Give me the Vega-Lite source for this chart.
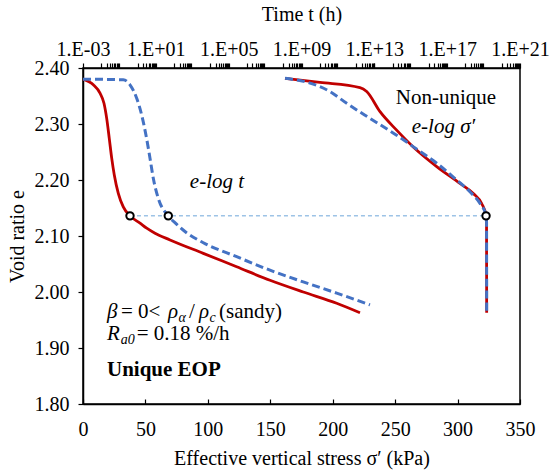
{
  "$schema": "https://vega.github.io/schema/vega-lite/v6.json",
  "width": 437,
  "height": 336,
  "autosize": {"type": "none"},
  "padding": {"left": 83, "top": 68, "right": 35, "bottom": 67},
  "background": "white",
  "config": {
    "view": {"stroke": "black", "strokeWidth": 1.5},
    "axis": {
      "labelFont": "Liberation Serif", "titleFont": "Liberation Serif",
      "labelFontSize": 20, "titleFontSize": 20, "titleFontWeight": "normal",
      "labelColor": "black", "titleColor": "black", "domainColor": "black", "tickColor": "black",
      "grid": false, "domainWidth": 1.5, "tickWidth": 1.2, "labelOverlap": false, "labelFlush": false, "labelBound": false
    }
  },
  "resolve": {"scale": {"x": "independent"}, "axis": {"x": "independent"}},
  "encoding": {
    "y": {"field": "e", "type": "quantitative",
      "scale": {"domain": [1.8, 2.4], "nice": false, "zero": false},
      "axis": {"title": "Void ratio e", "values": [1.8, 1.9, 2.0, 2.1, 2.2, 2.3, 2.4], "format": ".2f", "tickSize": 5, "labelPadding": 9, "titlePadding": 7}}
  },
  "layer": [
    {
      "encoding": {
        "x": {"field": "stress", "type": "quantitative",
          "scale": {"domain": [0, 350], "nice": false, "zero": false},
          "axis": {"orient": "bottom", "title": "Effective vertical stress σ′ (kPa)", "values": [0, 50, 100, 150, 200, 250, 300, 350], "tickSize": -5, "labelPadding": 20, "titlePadding": 9}}
      },
      "layer": [
        {
          "data": {"values": [{"stress": 37.6, "e": 2.136}, {"stress": 322.8, "e": 2.136}]},
          "mark": {"type": "line", "color": "#9DC3E6", "strokeWidth": 1.5, "strokeDash": [4, 3]}
        },
        {
          "data": {"values": [
            {"stress": 161.8, "e": 2.3815}, {"stress": 189.8, "e": 2.3744}, {"stress": 221.8, "e": 2.365}, {"stress": 227.2, "e": 2.358},
            {"stress": 237.9, "e": 2.322}, {"stress": 251.2, "e": 2.289}, {"stress": 264.5, "e": 2.259}, {"stress": 283.3, "e": 2.224},
            {"stress": 301.9, "e": 2.194}, {"stress": 312.6, "e": 2.176}, {"stress": 319.3, "e": 2.158}, {"stress": 322.8, "e": 2.137},
            {"stress": 323.2, "e": 2.125}, {"stress": 323.3, "e": 1.963}
          ]},
          "mark": {"type": "line", "color": "#C00000", "strokeWidth": 2.8, "interpolate": "monotone"}
        },
        {
          "data": {"values": [
            {"stress": 161.8, "e": 2.3815}, {"stress": 181.8, "e": 2.373}, {"stress": 197.8, "e": 2.358}, {"stress": 211.2, "e": 2.337},
            {"stress": 229.9, "e": 2.31}, {"stress": 251.2, "e": 2.28}, {"stress": 269.9, "e": 2.251}, {"stress": 283.3, "e": 2.23},
            {"stress": 299.3, "e": 2.2}, {"stress": 309.9, "e": 2.179}, {"stress": 318.0, "e": 2.158}, {"stress": 322.8, "e": 2.137},
            {"stress": 323.2, "e": 2.125}, {"stress": 323.3, "e": 1.963}
          ]},
          "mark": {"type": "line", "color": "#4472C4", "strokeWidth": 3, "strokeDash": [8, 4], "interpolate": "monotone"}
        },
        {
          "data": {"values": [{"stress": 322.8, "e": 2.136}]},
          "mark": {"type": "point", "shape": "circle", "filled": true, "fill": "white", "stroke": "black", "strokeWidth": 2, "size": 55, "opacity": 1}
        },
        {
          "data": {"values": [{"stress": 107.3, "e": 2.196, "label": "e-log t"}, {"stress": 288.7, "e": 2.295, "label": "e-log σ′"}]},
          "mark": {"type": "text", "font": "Liberation Serif", "fontSize": 21, "fontStyle": "italic", "align": "center", "baseline": "middle", "color": "black"},
          "encoding": {"text": {"field": "label"}}
        },
        {
          "data": {"values": [{"stress": 290.7, "e": 2.346, "label": "Non-unique"}]},
          "mark": {"type": "text", "font": "Liberation Serif", "fontSize": 21, "align": "center", "baseline": "middle", "color": "black"},
          "encoding": {"text": {"field": "label"}}
        },
        {
          "data": {"values": [
            {"stress": 19.2, "e": 1.9536, "label": "β"}, {"stress": 68.1, "e": 1.9536, "label": "ρ"}, {"stress": 92.9, "e": 1.9536, "label": "ρ"},
            {"stress": 19.2, "e": 1.9143, "label": "R"}
          ]},
          "mark": {"type": "text", "font": "Liberation Serif", "fontSize": 21, "fontStyle": "italic", "align": "left", "baseline": "alphabetic", "color": "black"},
          "encoding": {"text": {"field": "label"}}
        },
        {
          "data": {"values": [
            {"stress": 76.5, "e": 1.9464, "label": "α"}, {"stress": 101.3, "e": 1.9464, "label": "c"},
            {"stress": 30.2, "e": 1.9071, "label": "a0"}
          ]},
          "mark": {"type": "text", "font": "Liberation Serif", "fontSize": 14, "fontStyle": "italic", "align": "left", "baseline": "alphabetic", "color": "black"},
          "encoding": {"text": {"field": "label"}}
        },
        {
          "data": {"values": [
            {"stress": 30.4, "e": 1.9536, "label": "= 0<"}, {"stress": 84.9, "e": 1.9536, "label": "/"}, {"stress": 108.9, "e": 1.9536, "label": "(sandy)"},
            {"stress": 43.0, "e": 1.9143, "label": "= 0.18 %/h"}
          ]},
          "mark": {"type": "text", "font": "Liberation Serif", "fontSize": 21, "align": "left", "baseline": "alphabetic", "color": "black"},
          "encoding": {"text": {"field": "label"}}
        },
        {
          "data": {"values": [{"stress": 19.2, "e": 1.8506, "label": "Unique EOP"}]},
          "mark": {"type": "text", "font": "Liberation Serif", "fontSize": 21, "fontWeight": "bold", "align": "left", "baseline": "alphabetic", "color": "black"},
          "encoding": {"text": {"field": "label"}}
        }
      ]
    },
    {
      "encoding": {
        "x": {"field": "time", "type": "quantitative",
          "scale": {"type": "log", "domain": [0.001, 1e21], "nice": false},
          "axis": {"orient": "top", "title": "Time t (h)", "tickSize": 5, "labelPadding": 4, "titlePadding": 15,
            "values": [0.001, 0.01, 0.02, 0.03, 0.04, 0.05, 0.06, 0.07, 0.08, 0.09,
              1, 2, 3, 4, 5, 6, 7, 8, 9, 10,
              100, 200, 300, 400, 500, 600, 700, 800, 900,
              1e4, 2e4, 3e4, 4e4, 5e4, 6e4, 7e4, 8e4, 9e4, 1e5,
              1e6, 2e6, 3e6, 4e6, 5e6, 6e6, 7e6, 8e6, 9e6,
              1e8, 2e8, 3e8, 4e8, 5e8, 6e8, 7e8, 8e8, 9e8, 1e9,
              1e10, 2e10, 3e10, 4e10, 5e10, 6e10, 7e10, 8e10, 9e10,
              1e12, 2e12, 3e12, 4e12, 5e12, 6e12, 7e12, 8e12, 9e12, 1e13,
              1e14, 2e14, 3e14, 4e14, 5e14, 6e14, 7e14, 8e14, 9e14,
              1e16, 2e16, 3e16, 4e16, 5e16, 6e16, 7e16, 8e16, 9e16, 1e17,
              1e18, 2e18, 3e18, 4e18, 5e18, 6e18, 7e18, 8e18, 9e18,
              1e20, 2e20, 3e20, 4e20, 5e20, 6e20, 7e20, 8e20, 9e20, 1e21],
            "labelExpr": "(abs(log(datum.value)/LN10 - round(log(datum.value)/LN10)) < 0.001 && (round(log(datum.value)/LN10) + 3) % 4 == 0) ? ('1.E' + (datum.value < 1 ? '-' : '+') + pad(toString(abs(round(log(datum.value)/LN10))), 2, '0', 'left')) : ''"}}
      },
      "layer": [
        {
          "data": {"values": [
            {"time": 0.001, "e": 2.38}, {"time": 0.00368, "e": 2.37}, {"time": 0.0086, "e": 2.355}, {"time": 0.0142, "e": 2.337},
            {"time": 0.02, "e": 2.31}, {"time": 0.0278, "e": 2.274}, {"time": 0.0377, "e": 2.239}, {"time": 0.0523, "e": 2.209},
            {"time": 0.0868, "e": 2.176}, {"time": 0.163, "e": 2.152}, {"time": 0.381, "e": 2.136}, {"time": 1.35, "e": 2.123},
            {"time": 3.15, "e": 2.114}, {"time": 8.99, "e": 2.105}, {"time": 60, "e": 2.093}, {"time": 4040, "e": 2.069},
            {"time": 275000, "e": 2.045}, {"time": 1.86e7, "e": 2.021}, {"time": 1.25e9, "e": 2.0}, {"time": 8.55e10, "e": 1.98},
            {"time": 1.63e12, "e": 1.963}
          ]},
          "mark": {"type": "line", "color": "#C00000", "strokeWidth": 2.8, "interpolate": "monotone"}
        },
        {
          "data": {"values": [
            {"time": 0.001, "e": 2.38}, {"time": 0.163, "e": 2.379}, {"time": 0.381, "e": 2.37}, {"time": 0.889, "e": 2.346},
            {"time": 1.67, "e": 2.316}, {"time": 2.88, "e": 2.28}, {"time": 4.78, "e": 2.239}, {"time": 7.26, "e": 2.203},
            {"time": 13.7, "e": 2.167}, {"time": 48.3, "e": 2.136}, {"time": 128, "e": 2.122}, {"time": 399, "e": 2.108},
            {"time": 4040, "e": 2.088}, {"time": 275000, "e": 2.063}, {"time": 1.86e7, "e": 2.039}, {"time": 1.25e9, "e": 2.018},
            {"time": 8.55e10, "e": 1.998}, {"time": 5.77e12, "e": 1.977}
          ]},
          "mark": {"type": "line", "color": "#4472C4", "strokeWidth": 3, "strokeDash": [8, 4], "interpolate": "monotone"}
        },
        {
          "data": {"values": [{"time": 0.381, "e": 2.136}, {"time": 48.3, "e": 2.136}]},
          "mark": {"type": "point", "shape": "circle", "filled": true, "fill": "white", "stroke": "black", "strokeWidth": 2, "size": 55, "opacity": 1}
        }
      ]
    }
  ]
}
